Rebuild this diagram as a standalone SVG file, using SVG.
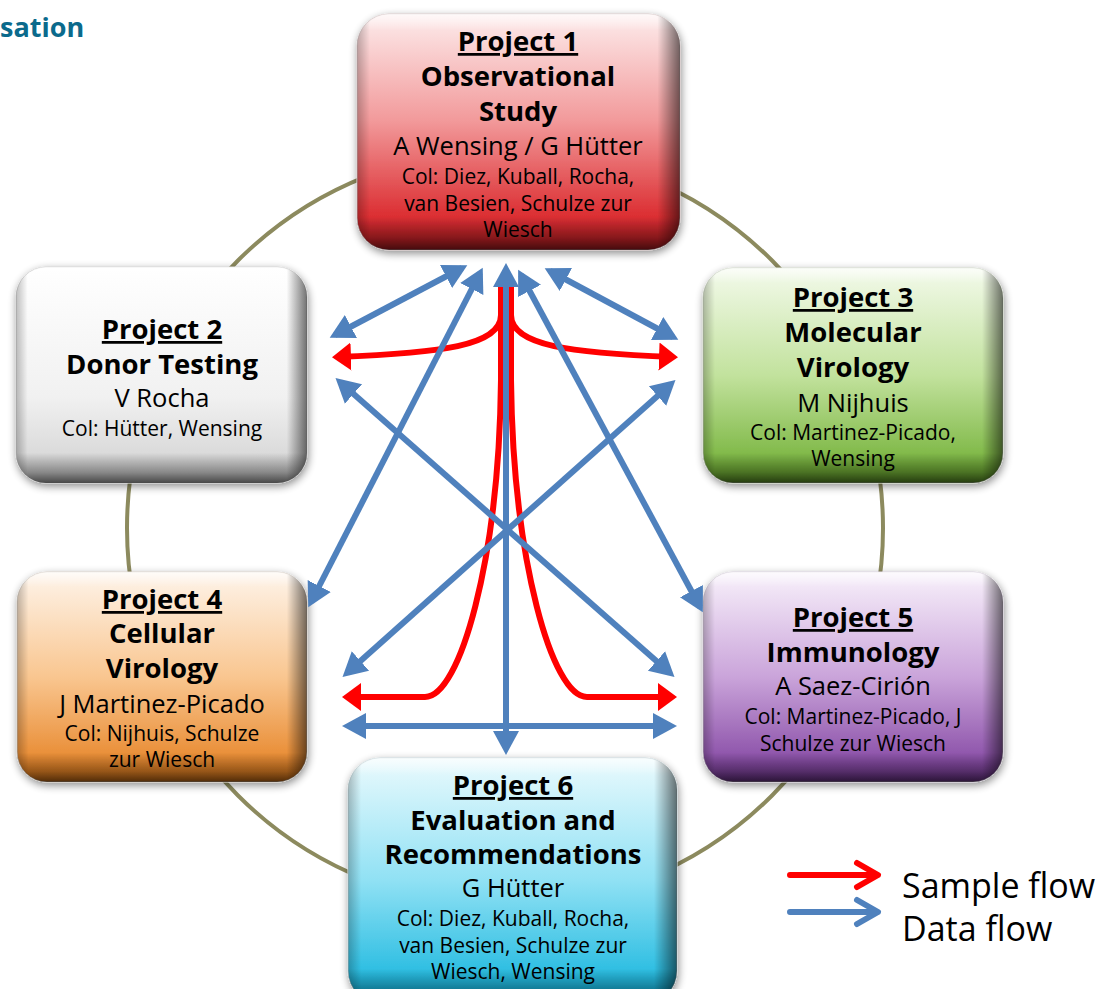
<svg xmlns="http://www.w3.org/2000/svg" width="1106" height="989" viewBox="0 0 1106 989">
<style>
text{font-family:"Open Sans","Noto Sans","Liberation Sans",sans-serif;fill:#000;text-anchor:middle}
.t{font-weight:bold;font-size:27.5px}
.u{text-decoration:underline}
.n{font-size:25.5px}
.c{font-size:21px}
.blue{stroke:#4f81bd;stroke-width:6;fill:none;marker-start:url(#bh);marker-end:url(#bh)}
.red{stroke:#ff0000;stroke-width:6;fill:none;marker-end:url(#rh)}
.lg{fill:none;stroke-width:6;stroke-linecap:round;stroke-linejoin:round}
</style>
<defs>
<filter id="sh" x="-10%" y="-10%" width="125%" height="130%">
<feGaussianBlur in="SourceAlpha" stdDeviation="4"/>
<feOffset dx="1" dy="3"/>
<feComponentTransfer><feFuncA type="linear" slope="0.45"/></feComponentTransfer>
<feMerge><feMergeNode/><feMergeNode in="SourceGraphic"/></feMerge>
</filter>
<linearGradient id="sv" x1="0" y1="0" x2="0" y2="1">
<stop offset="0" stop-color="#fff" stop-opacity="0.7"/>
<stop offset="0.07" stop-color="#fff" stop-opacity="0"/>
<stop offset="0.86" stop-color="#000" stop-opacity="0"/>
<stop offset="0.95" stop-color="#000" stop-opacity="0.35"/>
<stop offset="1" stop-color="#000" stop-opacity="0.65"/>
</linearGradient>
<linearGradient id="shh" x1="0" y1="0" x2="1" y2="0">
<stop offset="0" stop-color="#000" stop-opacity="0.25"/>
<stop offset="0.04" stop-color="#000" stop-opacity="0"/>
<stop offset="0.93" stop-color="#000" stop-opacity="0"/>
<stop offset="1" stop-color="#000" stop-opacity="0.55"/>
</linearGradient>
<linearGradient id="g1" x1="0" y1="0" x2="0" y2="1">
<stop offset="0" stop-color="#fdecec"/><stop offset="0.45" stop-color="#f29a9b"/><stop offset="0.85" stop-color="#dc3034"/><stop offset="1" stop-color="#c41e24"/>
</linearGradient>
<linearGradient id="g2" x1="0" y1="0" x2="0" y2="1">
<stop offset="0" stop-color="#ffffff"/><stop offset="0.6" stop-color="#f1f1f1"/><stop offset="1" stop-color="#cfcfcf"/>
</linearGradient>
<linearGradient id="g3" x1="0" y1="0" x2="0" y2="1">
<stop offset="0" stop-color="#f3faeb"/><stop offset="0.5" stop-color="#c2e29d"/><stop offset="1" stop-color="#6aab2c"/>
</linearGradient>
<linearGradient id="g4" x1="0" y1="0" x2="0" y2="1">
<stop offset="0" stop-color="#fef4ea"/><stop offset="0.5" stop-color="#f9c690"/><stop offset="1" stop-color="#e47c1a"/>
</linearGradient>
<linearGradient id="g5" x1="0" y1="0" x2="0" y2="1">
<stop offset="0" stop-color="#f8f1fb"/><stop offset="0.5" stop-color="#caa4da"/><stop offset="1" stop-color="#7b3b9c"/>
</linearGradient>
<linearGradient id="g6" x1="0" y1="0" x2="0" y2="1">
<stop offset="0" stop-color="#eafafd"/><stop offset="0.5" stop-color="#90e1f4"/><stop offset="1" stop-color="#0cb2dc"/>
</linearGradient>
<marker id="bh" markerUnits="userSpaceOnUse" markerWidth="26" markerHeight="28" viewBox="0 -14 26 28" refX="18" refY="0" orient="auto-start-reverse">
<path d="M0,-13 L24,0 L0,13 z" fill="#4f81bd"/>
</marker>
<marker id="rh" markerUnits="userSpaceOnUse" markerWidth="20" markerHeight="30" viewBox="0 -15 20 30" refX="14" refY="0" orient="auto">
<path d="M0,-14 L19,0 L0,14 z" fill="#ff0000"/>
</marker>
</defs>
<rect width="1106" height="989" fill="#fff"/>
<text x="0" y="37" style="font-weight:bold;font-size:27px;fill:#0b6a8c;text-anchor:start">sation</text>
<circle cx="505" cy="528" r="378" fill="none" stroke="#8c8a5e" stroke-width="4"/>

<g id="p1">
<rect x="357" y="14" width="323" height="236" rx="32" fill="url(#g1)" stroke="#d8c8c8" stroke-width="1" filter="url(#sh)"/>
<rect x="357" y="14" width="323" height="236" rx="32" fill="url(#sv)"/>
<rect x="357" y="14" width="323" height="236" rx="32" fill="url(#shh)"/>
<text x="518" y="51" class="t u">Project 1</text>
<text x="518" y="86" class="t">Observational</text>
<text x="518" y="121" class="t">Study</text>
<text x="518" y="155" class="n">A Wensing / G Hütter</text>
<text x="518" y="184" class="c">Col: Diez, Kuball, Rocha,</text>
<text x="518" y="211" class="c">van Besien, Schulze zur</text>
<text x="518" y="237" class="c">Wiesch</text>
</g>

<g id="p2">
<rect x="16" y="267" width="291" height="216" rx="30" fill="url(#g2)" stroke="#d0d0d0" stroke-width="1" filter="url(#sh)"/>
<rect x="16" y="267" width="291" height="216" rx="30" fill="url(#sv)"/>
<rect x="16" y="267" width="291" height="216" rx="30" fill="url(#shh)"/>
<text x="162" y="339" class="t u">Project 2</text>
<text x="162" y="374" class="t">Donor Testing</text>
<text x="162" y="407" class="n">V Rocha</text>
<text x="162" y="436" class="c">Col: Hütter, Wensing</text>
</g>

<g id="p3">
<rect x="703" y="268" width="300" height="215" rx="30" fill="url(#g3)" stroke="#d0d8c8" stroke-width="1" filter="url(#sh)"/>
<rect x="703" y="268" width="300" height="215" rx="30" fill="url(#sv)"/>
<rect x="703" y="268" width="300" height="215" rx="30" fill="url(#shh)"/>
<text x="853" y="307" class="t u">Project 3</text>
<text x="853" y="342" class="t">Molecular</text>
<text x="853" y="377" class="t">Virology</text>
<text x="853" y="412" class="n">M Nijhuis</text>
<text x="853" y="440" class="c">Col: Martinez-Picado,</text>
<text x="853" y="466" class="c">Wensing</text>
</g>

<g id="p4">
<rect x="17" y="572" width="290" height="210" rx="30" fill="url(#g4)" stroke="#d8d0c8" stroke-width="1" filter="url(#sh)"/>
<rect x="17" y="572" width="290" height="210" rx="30" fill="url(#sv)"/>
<rect x="17" y="572" width="290" height="210" rx="30" fill="url(#shh)"/>
<text x="162" y="609" class="t u">Project 4</text>
<text x="162" y="643" class="t">Cellular</text>
<text x="162" y="678" class="t">Virology</text>
<text x="162" y="713" class="n">J Martinez-Picado</text>
<text x="162" y="741" class="c">Col: Nijhuis, Schulze</text>
<text x="162" y="767" class="c">zur Wiesch</text>
</g>

<g id="p5">
<rect x="703" y="572" width="300" height="210" rx="30" fill="url(#g5)" stroke="#d8d0dc" stroke-width="1" filter="url(#sh)"/>
<rect x="703" y="572" width="300" height="210" rx="30" fill="url(#sv)"/>
<rect x="703" y="572" width="300" height="210" rx="30" fill="url(#shh)"/>
<text x="853" y="627" class="t u">Project 5</text>
<text x="853" y="662" class="t">Immunology</text>
<text x="853" y="695" class="n">A Saez-Cirión</text>
<text x="853" y="724" class="c">Col: Martinez-Picado, J</text>
<text x="853" y="751" class="c">Schulze zur Wiesch</text>
</g>

<g id="p6">
<rect x="348" y="758" width="329" height="245" rx="32" fill="url(#g6)" stroke="#c8d8dc" stroke-width="1" filter="url(#sh)"/>
<rect x="348" y="758" width="329" height="245" rx="32" fill="url(#sv)"/>
<rect x="348" y="758" width="329" height="245" rx="32" fill="url(#shh)"/>
<text x="513" y="795" class="t u">Project 6</text>
<text x="513" y="830" class="t">Evaluation and</text>
<text x="513" y="864" class="t">Recommendations</text>
<text x="513" y="897" class="n">G Hütter</text>
<text x="513" y="926" class="c">Col: Diez, Kuball, Rocha,</text>
<text x="513" y="953" class="c">van Besien, Schulze zur</text>
<text x="513" y="979" class="c">Wiesch, Wensing</text>
</g>

<g id="connectors">
<path class="red" d="M501,282 L501,315 C501,346 440,353 337,357"/>
<path class="red" d="M511,282 L511,315 C511,346 572,353 673,357"/>
<path class="red" d="M501,282 L501,380 C499,560 460,697 425,697 L347,697"/>
<path class="red" d="M511,282 L511,380 C513,560 552,697 587,697 L672,697"/>
<path class="blue" d="M462,268 L335,335"/>
<path class="blue" d="M480,273 L311,602"/>
<path class="blue" d="M506,269 L506,749"/>
<path class="blue" d="M521,275 L700,607"/>
<path class="blue" d="M550,271 L673,337"/>
<path class="blue" d="M340,382 L670,673"/>
<path class="blue" d="M671,384 L347,673"/>
<path class="blue" d="M348,726 L671,726"/>
</g>

<g id="legend">
<path class="lg" stroke="#ff0000" d="M790,875 L876,875 M857,863 L878,875 L857,887"/>
<path class="lg" stroke="#4f81bd" d="M790,912 L876,912 M857,900 L878,912 L857,924"/>
<text x="902" y="898" style="font-size:34px;text-anchor:start">Sample flow</text>
<text x="902" y="941" style="font-size:34px;text-anchor:start">Data flow</text>
</g>
</svg>
